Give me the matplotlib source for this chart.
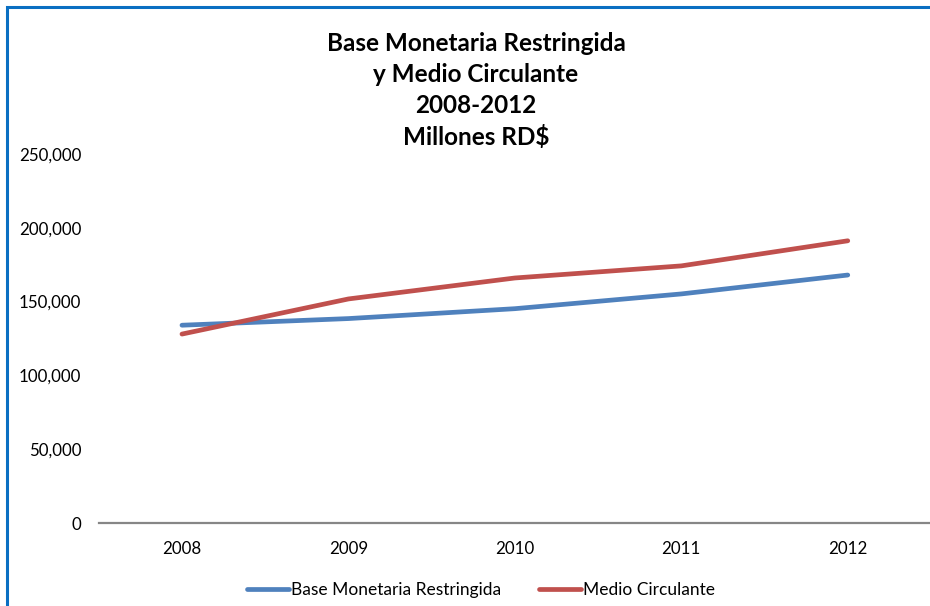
import matplotlib.pyplot as plt
from matplotlib.patches import Rectangle
from matplotlib.ticker import FuncFormatter

plt.rcParams['font.family'] = ['Lato', 'DejaVu Sans']

anios = ['2008', '2009', '2010', '2011', '2012']
base_monetaria = [134000, 138500, 145200, 155200, 168000]
medio_circulante = [128000, 151800, 166000, 174200, 191200]

W, H = 930, 606
fig = plt.figure(figsize=(W / 100, H / 100), dpi=100)

# marco azul (solo se ve arriba y a la izquierda)
fig.patches.append(Rectangle((7 / W, -0.05), 1.1, 1 - 7 / H + 0.05,
                             transform=fig.transFigure, fill=False,
                             edgecolor='#0A6FC2', linewidth=2.2))

ax = fig.add_axes([98.75 / W, 1 - 523 / H, (931 - 98.75) / W, (523 - 154) / H])
x = range(len(anios))
ax.plot(x, base_monetaria, color='#4F81BD', lw=3.4, solid_capstyle='round',
        label='Base Monetaria Restringida')
ax.plot(x, medio_circulante, color='#C0504D', lw=3.4, solid_capstyle='round',
        label='Medio Circulante')

ax.set_xlim(-0.5, 4.5)
ax.set_ylim(0, 250000)
ax.set_yticks(range(0, 250001, 50000))
ax.yaxis.set_major_formatter(FuncFormatter(lambda v, p: f'{int(v):,}'))
ax.set_xticks(list(x))
ax.set_xticklabels(anios)
for s in ['top', 'right', 'left']:
    ax.spines[s].set_visible(False)
ax.spines['bottom'].set_color('#868686')
ax.spines['bottom'].set_linewidth(1.6)
ax.tick_params(axis='both', length=0, labelsize=12.2, colors='black')
ax.tick_params(axis='y', pad=12.5)
ax.tick_params(axis='x', pad=13)

fig.text(476 / W, 1 - 32 / H,
         'Base Monetaria Restringida\ny Medio Circulante\n2008-2012\nMillones RD$',
         ha='center', va='top', fontsize=17.5, fontweight='bold', linespacing=1.42)

fig.legend(loc='center', bbox_to_anchor=(481 / W, 1 - 590 / H), ncol=2,
           frameon=False, fontsize=12.5, handlelength=2.4, handletextpad=0.12,
           columnspacing=2.2)

fig.savefig('out.png', dpi=100)
